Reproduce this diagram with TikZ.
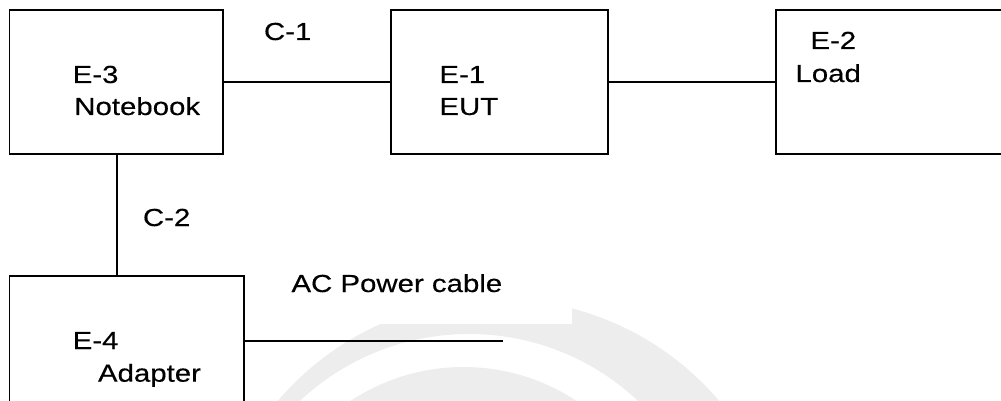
\documentclass[tikz,border=0pt]{standalone}
\usepackage{fontspec}
\setmainfont{Liberation Sans}[FakeStretch=1.19,FakeBold=0.35]
\definecolor{wmgray}{RGB}{237,237,237}
\begin{document}
\begin{tikzpicture}[x=1pt,y=-1pt,
  box/.style={draw=black, line width=1.9pt, inner sep=0pt, outer sep=0pt, rectangle},
  wire/.style={draw=black, line width=1.9pt},
  lbl/.style={inner sep=0pt, outer sep=0pt, anchor=base west, font=\fontsize{24.7}{30}\selectfont}]
\useasboundingbox (0,0) rectangle (1001,401);
% faint watermark
\begin{scope}
  \clip (0,0) rectangle (1001,401);
  \fill[wmgray, even odd rule] (498.5,589) circle[radius=290pt] (469,581) circle[radius=247pt]
     (463.5,572) circle[radius=205pt] (460,580) circle[radius=170pt];
  \fill[white] (250,240) rectangle (572,324);
\end{scope}
% boxes
\node[box, minimum width=213.5pt, minimum height=144pt] (e3) at (116.25,82) {};
\node[box, minimum width=216.7pt, minimum height=144pt] (e1) at (499.35,82) {};
\node[box, minimum width=264.3pt, minimum height=144pt] (e2) at (907.85,82) {};
\node[box, minimum width=234.5pt, minimum height=164pt] (e4) at (126.75,358) {};
% connectors
\coordinate (vx) at (117.3,0);
\coordinate (acend) at (502.7,340.7);
\draw[wire] (e3.east) -- (e1.west);
\draw[wire] (e1.east) -- (e2.west);
\draw[wire] (vx |- e3.south) -- (vx |- e4.north);
\draw[wire] (acend -| e4.east) -- (acend);
% labels
\node[lbl] (c1) at (264,40) {C-1};
\node[lbl] (t3a) at (72.7,83) {E-3};
\node[lbl] (t3b) at (74.3,115) {Notebook};
\node[lbl] (t1a) at (439.4,83) {E-1};
\node[lbl] (t1b) at (439.4,115) {EUT};
\node[lbl] (t2a) at (810.4,49) {E-2};
\node[lbl] (t2b) at (795.5,82) {Load};
\node[lbl] (c2) at (143,226) {C-2};
\node[lbl] (t4a) at (72.7,349) {E-4};
\node[lbl] (t4b) at (98,381.7) {Adapter};
\node[lbl] (ac) at (291.5,292) {AC Power cable};
\end{tikzpicture}
\end{document}
